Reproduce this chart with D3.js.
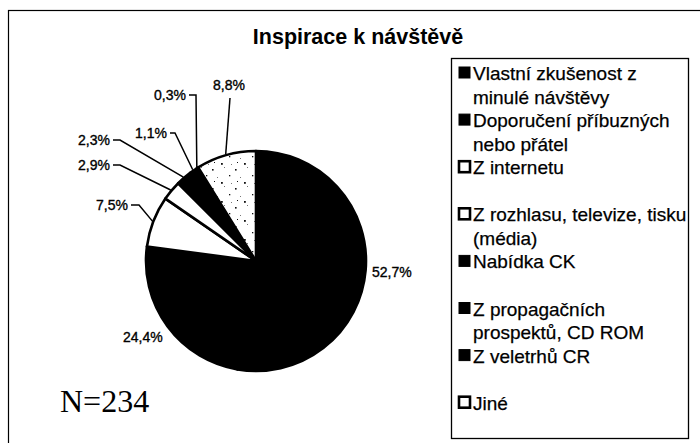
<!DOCTYPE html>
<html>
<head>
<meta charset="utf-8">
<script src="https://cdn.jsdelivr.net/npm/d3@7"></script>
<style>
  html, body { margin: 0; padding: 0; background: #fff; }
  svg { display: block; }
  text { font-family: "Liberation Sans", Arial, sans-serif; fill: #000; }
</style>
</head>
<body>
<svg id="chart" width="700" height="443"></svg>
<script>
// Inspirace k návštěvě — podíly odpovědí (N=234)
const categories = [
  "Vlastní zkušenost z minulé návštěvy",
  "Doporučení příbuzných nebo přátel",
  "Z internetu",
  "Z rozhlasu, televize, tisku (média)",
  "Nabídka CK",
  "Z propagačních prospektů, CD ROM",
  "Z veletrhů CR",
  "Jiné"
];
const values = [52.7, 24.4, 7.5, 2.9, 2.3, 1.1, 0.3, 8.8];
const legendLines = [
  ["Vlastní zkušenost z", "minulé návštěvy"],
  ["Doporučení příbuzných", "nebo přátel"],
  ["Z internetu"],
  ["Z rozhlasu, televize, tisku", "(média)"],
  ["Nabídka CK"],
  ["Z propagačních", "prospektů, CD ROM"],
  ["Z veletrhů CR"],
  ["Jiné"]
];
const title = "Inspirace k návštěvě";
const sampleNote = "N=234";

// fill style per slice: solid black, plain white, or speckled
const sliceStyle = ["black", "black", "white", "white", "black", "black", "black", "dots"];
const legendStyle = ["black", "black", "white", "white", "black", "black", "black", "white"];

// layout
const cx = 256, cy = 261, R = 110;
const legendBox = { x: 451, y: 58, w: 237, h: 380 };
const legendTop = 73, legendStep = 47.1, lineH = 23.5;
// label placement: text anchor point and optional elbow of the leader line
const labelLayout = [
  { x: 372, y: 277, anchor: "start" },
  { x: 123, y: 342, anchor: "start" },
  { x: 128, y: 210, anchor: "end", elbow: [131, 139, 205] },
  { x: 110, y: 170, anchor: "end", elbow: [113, 120, 165] },
  { x: 110, y: 145, anchor: "end", elbow: [113, 120, 140] },
  { x: 167, y: 138, anchor: "end", elbow: [170, 175, 133] },
  { x: 186, y: 100, anchor: "end", elbow: [189, 196, 95] },
  { x: 229, y: 90, anchor: "middle", drop: [230, 98] }
];

const svg = d3.select("#chart");

// speckled fill pattern
const defs = svg.append("defs");
const pat = defs.append("pattern")
  .attr("id", "dots").attr("patternUnits", "userSpaceOnUse")
  .attr("width", 23).attr("height", 19);
pat.append("rect").attr("width", 23).attr("height", 19).attr("fill", "#fff");
const dotPts = [[2,3,1.6],[14,1,1],[19,9,1.3],[7,11,1],[11,16,1.8],[21,17,1],[4,15,1]];
pat.selectAll("rect.d").data(dotPts).enter().append("rect")
  .attr("class", "d")
  .attr("x", d => d[0]).attr("y", d => d[1])
  .attr("width", d => d[2]).attr("height", d => d[2])
  .attr("fill", (d, i) => i % 2 === 0 ? "#111" : "#777");

const fillOf = s => s === "black" ? "#000" : s === "white" ? "#fff" : "url(#dots)";

// outer frame
svg.append("rect")
  .attr("x", 8.5).attr("y", 10.5).attr("width", 700).attr("height", 450)
  .attr("fill", "none").attr("stroke", "#000").attr("stroke-width", 1.2);

// title
svg.append("text")
  .attr("x", 358).attr("y", 44)
  .attr("text-anchor", "middle")
  .style("font-weight", "bold").style("font-size", "21.5px")
  .text(title);

// pie
const pie = d3.pie().sort(null).value(d => d)(values);
const arc = d3.arc().innerRadius(0).outerRadius(R);
const g = svg.append("g").attr("transform", `translate(${cx},${cy})`);
g.selectAll("path.slice").data(pie).enter().append("path")
  .attr("class", "slice")
  .attr("d", arc)
  .attr("fill", (d, i) => fillOf(sliceStyle[i]))
  .attr("stroke", "#000").attr("stroke-width", 2.6)
  .attr("stroke-linejoin", "round");

// value labels and leader lines
const fmt = v => d3.format(".1f")(v).replace(".", ",") + "%";
const edgePoint = d => {
  const a = (d.startAngle + d.endAngle) / 2;
  return [cx + (R + 1) * Math.sin(a), cy - (R + 1) * Math.cos(a)];
};
pie.forEach((d, i) => {
  const L = labelLayout[i];
  svg.append("text")
    .attr("x", L.x).attr("y", L.y)
    .attr("text-anchor", L.anchor)
    .style("font-size", "14px")
    .attr("stroke", "#000").attr("stroke-width", 0.35)
    .text(fmt(values[i]));
  const p = edgePoint(d);
  let pts = null;
  if (L.elbow) pts = [[L.elbow[0], L.elbow[2]], [L.elbow[1], L.elbow[2]], p];
  else if (L.drop) pts = [L.drop, p];
  if (pts) {
    svg.append("path")
      .attr("d", d3.line()(pts))
      .attr("fill", "none").attr("stroke", "#000").attr("stroke-width", 1.5);
  }
});

// sample size note
svg.append("text")
  .attr("x", 60).attr("y", 412)
  .style("font-family", "'Liberation Serif', 'Times New Roman', serif")
  .style("font-size", "32px")
  .text(sampleNote);

// legend
svg.append("rect")
  .attr("x", legendBox.x + 0.5).attr("y", legendBox.y + 0.5)
  .attr("width", legendBox.w).attr("height", legendBox.h)
  .attr("fill", "#fff").attr("stroke", "#000").attr("stroke-width", 1.3);

const rowY = i => legendTop + legendStep * i;
const items = svg.append("g").selectAll("g").data(categories).enter().append("g");
items.append("rect")
  .attr("x", 459)
  .attr("y", (d, i) => rowY(i) - 6)
  .attr("width", 11).attr("height", 11)
  .attr("fill", (d, i) => legendStyle[i] === "black" ? "#000" : "#fff")
  .attr("stroke", "#000")
  .attr("stroke-width", (d, i) => legendStyle[i] === "black" ? 1 : 2.6);
items.each(function (d, i) {
  const t = d3.select(this).append("text")
    .attr("x", 473).attr("y", rowY(i) + 7)
    .style("font-size", "19px")
    .attr("stroke", "#000").attr("stroke-width", 0.25);
  legendLines[i].forEach((line, k) => {
    t.append("tspan").attr("x", 473).attr("dy", k === 0 ? 0 : lineH).text(line);
  });
});
</script>
</body>
</html>
